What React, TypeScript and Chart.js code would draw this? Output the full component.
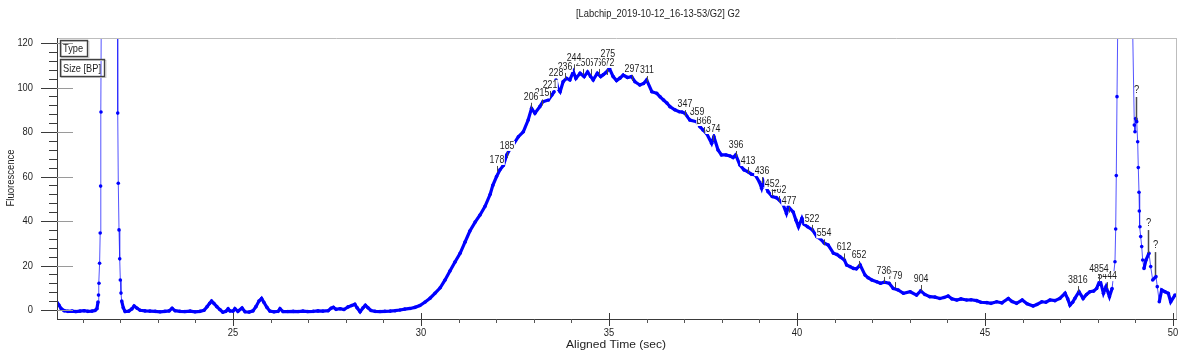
import { useEffect, useRef } from "react";
import { Chart, registerables } from "chart.js";

Chart.register(...registerables);

const chartTitle = "[Labchip_2019-10-12_16-13-53/G2] G2";
const xTitle = "Aligned Time (sec)";
const yTitle = "Fluorescence";
const legendItems = ["Type", "Size [BP]"];

const xTickValues = [25, 30, 35, 40, 45, 50];
const yTickValues = [0, 20, 40, 60, 80, 100, 120];

const timeSec = [
  20.33, 20.37, 20.43, 20.51, 20.61, 20.72, 20.82, 20.93, 21.04, 21.14, 21.25, 21.33, 21.38,
  21.41, 21.423, 21.436, 21.452, 21.468, 21.479, 21.489, 21.505, 21.715, 21.926, 21.934, 21.949,
  21.968, 21.987, 22.003, 22.021, 22.04, 22.082,
  22.13, 22.23, 22.31, 22.37, 22.45, 22.53, 22.66, 22.79, 22.93, 23.06, 23.19, 23.3, 23.38,
  23.46, 23.59, 23.72, 23.86, 23.99, 24.12, 24.23, 24.31, 24.38, 24.43, 24.49, 24.57, 24.65,
  24.73, 24.81, 24.87, 24.92, 25.0, 25.05, 25.13, 25.24, 25.32, 25.43, 25.53, 25.61, 25.69,
  25.76, 25.82, 25.9, 25.98, 26.09, 26.2, 26.25, 26.33, 26.46, 26.6, 26.73, 26.86, 26.99,
  27.13, 27.26, 27.39, 27.53, 27.61, 27.67, 27.74, 27.85, 27.95, 28.06, 28.16, 28.24, 28.3,
  28.38, 28.46, 28.52, 28.59, 28.67, 28.78, 28.91, 29.04, 29.18, 29.31, 29.44, 29.57, 29.71,
  29.84, 29.97, 30.11, 30.24, 30.37, 30.51, 30.64, 30.77, 30.9, 31.04, 31.17, 31.3, 31.44,
  31.57, 31.7, 31.84, 31.91, 32.01, 32.1, 32.19, 32.28, 32.37, 32.45, 32.59, 32.72, 32.85,
  32.94, 33.03, 33.16, 33.24, 33.39, 33.48, 33.54, 33.59, 33.64, 33.7, 33.78, 33.87, 33.96,
  34.05, 34.12, 34.23, 34.34, 34.43, 34.51, 34.58, 34.69, 34.78, 34.85, 34.92, 35.01, 35.11,
  35.2, 35.29, 35.38, 35.49, 35.6, 35.69, 35.82, 35.92, 36.0, 36.14, 36.27, 36.36, 36.45,
  36.54, 36.62, 36.75, 36.87, 36.94, 37.02, 37.15, 37.33, 37.42, 37.5, 37.6, 37.73, 37.79,
  37.9, 37.99, 38.11, 38.22, 38.3, 38.37, 38.48, 38.59, 38.69, 38.79, 38.89, 39.0, 39.06,
  39.11, 39.23, 39.34, 39.45, 39.53, 39.63, 39.72, 39.77, 39.9, 39.97, 40.04, 40.13, 40.19,
  40.28, 40.41, 40.53, 40.62, 40.73, 40.83, 40.97, 41.06, 41.14, 41.26, 41.32, 41.41, 41.5,
  41.58, 41.68, 41.81, 41.89, 41.99, 42.12, 42.22, 42.32, 42.45, 42.56, 42.69, 42.83, 43.01,
  43.18, 43.29, 43.4, 43.53, 43.67, 43.8, 43.91, 44.02, 44.12, 44.25, 44.36, 44.51, 44.63,
  44.78, 44.89, 45.05, 45.16, 45.31, 45.45, 45.62, 45.72, 45.84, 45.99, 46.12, 46.28, 46.38,
  46.51, 46.62, 46.73, 46.86, 46.99, 47.13, 47.2, 47.26, 47.33, 47.39, 47.5, 47.61, 47.7,
  47.79, 47.89, 47.97, 48.06, 48.15, 48.22, 48.31, 48.38,
  48.457, 48.476, 48.492, 48.511, 48.551, 48.723, 48.883, 48.971, 48.989, 49.008, 49.035,
  49.061, 49.077, 49.096, 49.104, 49.122, 49.141, 49.168, 49.194, 49.229, 49.282, 49.362,
  49.407, 49.46, 49.548, 49.582, 49.636, 49.699, 49.787, 49.875, 49.939, 50.053,
];

const fluorescence = [
  3.2, 2.2, 0.6, -0.3, -0.6, -0.5, -0.7, -0.5, -0.3, -0.6, -0.5, -0.2, 0.6,
  3.6, 6.7, 12, 21, 34.6, 55.7, 89, 160, 900, 160, 88.5, 57,
  36, 23, 13.5, 7.6, 4, 1.0,
  -0.7, -0.5, 0.5, 1.8, 0.8, -0.1, -0.4, -0.5, -0.6, -0.8, -0.6, -0.4, 0.8,
  -0.3, -0.6, -0.7, -0.5, -0.8, -0.6, -0.1, 1.5, 3.0, 4.0, 3.0, 1.5, 0.2,
  -1.0, -0.6, 0.5, -0.4, -0.5, 0.6, -0.6, 0.9, -0.8, -0.9, -0.4, 1.5, 4.0,
  5.2, 3.5, 1.2, -0.5, -0.8, -0.6, 0.6, -0.7, -0.7, -0.6, -0.7, -0.5, -0.7,
  -0.6, -0.4, -0.5, -0.3, 0.8, 1.2, 0.3, 0.6, 0.2, 1.4, 2.0, 2.6, 1.0,
  -0.8, 1.0, 2.1, 1.0, -0.2, -0.6, -0.7, -0.6, -0.5, -0.3, 0.0, 0.4, 0.7,
  1.2, 2.0, 3.6, 5.3, 7.5, 10.0, 13.5, 17.5, 21.5, 25.5, 30.5, 35.5, 39.5,
  42.7, 46.5, 52.0, 56.0, 60.0, 63.0, 65.0, 69.7, 72.5, 74.2, 77.9, 80.1, 85.4,
  90.6, 88.4, 91.4, 93.6, 94.4, 96.6, 98.1, 103.4, 99.5, 98.1, 102.6, 104.1, 103.4,
  107.1, 104.1, 106.4, 104.9, 107.0, 105.0, 103.4, 106.4, 104.9, 105.8, 106.7, 108.6, 104.9,
  103.1, 104.2, 105.6, 104.5, 104.9, 102.6, 101.1, 101.8, 103.4, 98.1, 97.4, 95.8, 94.4,
  93.0, 91.4, 90.0, 89.1, 89.0, 88.4, 85.4, 84.6, 82.4, 80.9, 79.2, 74.9, 77.9,
  71.9, 69.7, 69.7, 69.2, 68.5, 69.7, 65.2, 63.0, 62.2, 61.0, 60.7, 57.5, 54.7,
  57.8, 53.2, 51.0, 50.5, 49.4, 47.5, 43.4, 46.4, 44.0, 40.5, 37.4, 41.2, 38.5,
  37.4, 36.0, 32.9, 32.0, 30.0, 29.2, 25.5, 25.0, 24.0, 22.5, 20.2, 19.5, 18.7,
  18.5, 20.2, 15.7, 14.5, 13.5, 12.7, 12.0, 12.5, 12.0, 9.7, 9.0, 7.5, 8.2,
  6.7, 8.6, 7.0, 6.0, 5.8, 5.2, 5.6, 6.3, 5.0, 4.5, 5.0, 4.5, 4.6,
  4.2, 3.5, 3.3, 3.0, 3.7, 3.2, 5.2, 3.8, 3.0, 4.5, 2.8, 1.8, 2.5,
  3.7, 3.5, 4.5, 4.2, 5.2, 7.5, 5.0, 2.2, 3.5, 5.2, 8.2, 5.2, 7.0,
  8.2, 8.5, 9.7, 13.5, 7.5, 10.5, 6.0, 9.7,
  21.7, 36.4, 60.4, 95.9, 160, 400, 170, 83.1, 80.1, 86.1, 84.6,
  75.6, 64, 52.9, 44.5, 37.4, 33, 28.5, 22.5, 18.7, 22.5, 25.5,
  19.5, 13.5, 15, 10.5, 3.7, 9, 8.2, 7.5, 3.7, 6.7,
];

// Peak size annotations (base pairs), their times and the fluorescence at the tick foot
const sizeLabels = [
  "178", "185", "206", "215", "221", "228", "236", "244", "250", "257", "266", "272", "275",
  "297", "311", "347", "359", "366", "374", "396", "413", "436", "452", "462", "477", "522",
  "554", "612", "652", "736", "779", "904", "3816", "4854", "5444",
];
const sizeTimes = [
  32.02, 32.29, 32.93, 33.22, 33.43, 33.59, 33.83, 34.07, 34.31, 34.52, 34.73, 34.95, 34.97,
  35.61, 36.01, 37.02, 37.34, 37.53, 37.77, 38.38, 38.7, 39.07, 39.34, 39.52, 39.79, 40.4,
  40.72, 41.25, 41.65, 42.31, 42.61, 43.3, 47.47, 48.03, 48.25,
];
const sizeValues = [
  61.6, 67.9, 90.0, 91.5, 95.3, 100.8, 103.4, 107.3, 105.2, 105.2, 105.2, 105.2, 109.2,
  102.5, 102.0, 86.7, 83.1, 79.1, 75.5, 68.3, 61.1, 56.6, 50.8, 48.1, 43.3, 35.1,
  28.6, 22.3, 18.9, 11.7, 9.4, 8.1, 7.6, 12.6, 9.4,
];

// Unidentified peaks ("?")
const unknownTimes = [49.02, 49.34, 49.52];
const unknownValues = [85.4, 25.6, 15.7];

const X_MIN = 20.319;
const X_MAX = 50.08;
const Y_MIN = -4.04;
const Y_MAX = 122.25;

const FONT = '"Liberation Sans", Arial, sans-serif';

function drawText(
  ctx: CanvasRenderingContext2D,
  s: string,
  x: number,
  y: number,
  align: "left" | "center" | "right",
  size: number,
  sx: number,
  color = "#1e1e1e",
  targetWidth?: number
) {
  ctx.save();
  ctx.font = `${size}px ${FONT}`;
  const raw = ctx.measureText(s).width;
  const scale = targetWidth ? targetWidth / raw : sx;
  const w = raw * scale;
  const left = align === "left" ? x : align === "center" ? x - w / 2 : x - w;
  ctx.translate(left, y);
  ctx.scale(scale, 1);
  ctx.fillStyle = color;
  ctx.textAlign = "left";
  ctx.textBaseline = "middle";
  ctx.fillText(s, 0, 0);
  ctx.restore();
  return { left, w };
}

function isSteep(c: any) {
  const dx = Math.abs(c.p1.x - c.p0.x);
  const dy = Math.abs(c.p1.y - c.p0.y);
  return dy > 6 * Math.max(dx, 0.5);
}

const decorPlugin = {
  id: "decor",
  afterDraw(chart: any) {
    const ctx: CanvasRenderingContext2D = chart.ctx;
    const xs = chart.scales.x;
    const ys = chart.scales.y;
    const area = chart.chartArea;
    const L = Math.round(area.left);
    const R = Math.round(area.right);
    const T = Math.round(area.top);
    const B = Math.round(area.bottom);

    ctx.save();
    // frame
    ctx.lineWidth = 1;
    ctx.strokeStyle = "#bdbdbd";
    ctx.beginPath();
    ctx.moveTo(L, T + 0.5);
    ctx.lineTo(R, T + 0.5);
    ctx.moveTo(R + 0.5, T);
    ctx.lineTo(R + 0.5, B);
    ctx.stroke();
    ctx.strokeStyle = "#3a3a3a";
    ctx.beginPath();
    ctx.moveTo(L + 0.5, T);
    ctx.lineTo(L + 0.5, B + 1);
    ctx.moveTo(L, B + 0.5);
    ctx.lineTo(R + 1, B + 0.5);
    ctx.stroke();

    // y ticks
    for (let v = 0; v <= 120; v += 4) {
      const py = Math.round(ys.getPixelForValue(v)) + 0.5;
      const major = yTickValues.includes(v);
      ctx.strokeStyle = "#3a3a3a";
      ctx.beginPath();
      ctx.moveTo(major ? L - 16 : L - 8, py);
      ctx.lineTo(L, py);
      ctx.stroke();
      if (major) {
        ctx.strokeStyle = "#9a9a9a";
        ctx.beginPath();
        ctx.moveTo(L, py);
        ctx.lineTo(L + 16, py);
        ctx.stroke();
      }
    }
    yTickValues.forEach((v) => {
      drawText(ctx, String(v), L - 24, ys.getPixelForValue(v), "right", 11, 0.85);
    });

    // x ticks
    for (let t = 21; t <= 50; t += 1) {
      const px = Math.round(xs.getPixelForValue(t)) + 0.5;
      const major = xTickValues.includes(t);
      ctx.strokeStyle = major ? "#3a3a3a" : "#555555";
      ctx.beginPath();
      ctx.moveTo(px, major ? B - 6 : B);
      ctx.lineTo(px, major ? B + 7 : B + 4);
      ctx.stroke();
    }
    xTickValues.forEach((t) => {
      drawText(ctx, String(t), xs.getPixelForValue(t), B + 14, "center", 11, 0.85);
    });

    // titles
    drawText(ctx, chartTitle, 658, 14, "center", 11, 1, "#1e1e1e", 164);
    drawText(ctx, xTitle, 616, 345, "center", 11, 1, "#1e1e1e", 100);
    ctx.save();
    ctx.translate(11, 178);
    ctx.rotate(-Math.PI / 2);
    drawText(ctx, yTitle, 0, 0, "center", 11, 1, "#1e1e1e", 57);
    ctx.restore();

    // legend boxes
    const boxes = [
      { y0: 40.5, y1: 56.5, x1: 87.5 },
      { y0: 59.5, y1: 76.5, x1: 104.5 },
    ];
    legendItems.forEach((s, i) => {
      const b = boxes[i];
      ctx.strokeStyle = "#cfcfcf";
      ctx.lineWidth = 1;
      ctx.strokeRect(61.5, b.y0 + 1, b.x1 - 60, b.y1 - b.y0);
      ctx.strokeStyle = "#404040";
      ctx.lineWidth = 1.4;
      ctx.strokeRect(60.5, b.y0, b.x1 - 60.5, b.y1 - b.y0);
      drawText(ctx, s, 63, (b.y0 + b.y1) / 2 + 0.5, "left", 11, 0.84);
    });

    // size labels (drawn right to left so left ones stay on top)
    for (let i = sizeLabels.length - 1; i >= 0; i--) {
      const px = xs.getPixelForValue(sizeTimes[i]);
      const py = ys.getPixelForValue(sizeValues[i]);
      ctx.strokeStyle = "#4a4a4a";
      ctx.lineWidth = 1;
      const lx = Math.round(px) + 0.5;
      ctx.beginPath();
      ctx.moveTo(lx, py - 1);
      ctx.lineTo(lx, py - 7);
      ctx.stroke();
      ctx.font = `11px ${FONT}`;
      const w = ctx.measureText(sizeLabels[i]).width * 0.8;
      ctx.fillStyle = "#ffffff";
      ctx.fillRect(px - w / 2 - 0.5, py - 18, w + 1, 10);
      drawText(ctx, sizeLabels[i], px, py - 13, "center", 11, 0.8);
    }

    // unknown peaks
    unknownTimes.forEach((t, i) => {
      const px = Math.round(xs.getPixelForValue(t)) + 0.5;
      const py = ys.getPixelForValue(unknownValues[i]);
      ctx.strokeStyle = "#4a4a4a";
      ctx.lineWidth = 1.5;
      ctx.beginPath();
      ctx.moveTo(px, py);
      ctx.lineTo(px, py - 23);
      ctx.stroke();
      drawText(ctx, "?", px, py - 30, "center", 11, 0.85);
    });
    ctx.restore();
  },
};

export default function App() {
  const canvasRef = useRef<HTMLCanvasElement | null>(null);

  useEffect(() => {
    const canvas = canvasRef.current;
    if (!canvas) return;
    const points = timeSec.map((t, i) => ({ x: t, y: fluorescence[i] }));
    const chart = new Chart(canvas, {
      type: "line",
      data: {
        datasets: [
          {
            data: points,
            borderColor: "#2a2aff",
            borderWidth: 1,
            pointRadius: 1.8,
            pointBorderWidth: 0,
            pointBackgroundColor: "#0000ff",
            pointHoverRadius: 1.8,
            tension: 0,
            segment: {
              borderWidth: (c: any) => (isSteep(c) ? 1 : 3.2),
              borderColor: (c: any) => (isSteep(c) ? "rgba(40,40,255,0.8)" : "#0000ff"),
            },
          },
        ],
      },
      options: {
        responsive: false,
        animation: false,
        devicePixelRatio: 1,
        layout: { padding: { left: 57, right: 24, top: 38, bottom: 41 } },
        plugins: {
          legend: { display: false },
          tooltip: { enabled: false },
          title: { display: false },
        },
        events: [],
        scales: {
          x: { type: "linear", min: X_MIN, max: X_MAX, display: false },
          y: { type: "linear", min: Y_MIN, max: Y_MAX, display: false },
        },
      },
      plugins: [decorPlugin],
    });
    return () => chart.destroy();
  }, []);

  return (
    <div style={{ position: "absolute", left: 0, top: 0, width: 1200, height: 360, background: "#fff" }}>
      <canvas ref={canvasRef} width={1200} height={360} style={{ display: "block" }} />
    </div>
  );
}
